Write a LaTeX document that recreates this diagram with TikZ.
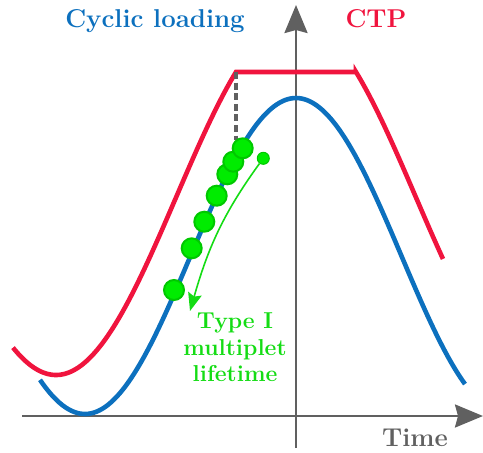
\documentclass[tikz,border=0pt]{standalone}
\usetikzlibrary{arrows.meta}
\definecolor{loadblue}{RGB}{12,112,190}
\definecolor{ctpred}{RGB}{240,20,62}
\definecolor{axisgray}{RGB}{96,96,96}
\definecolor{dotgreen}{RGB}{0,236,0}
\definecolor{dotedge}{RGB}{0,200,0}
\definecolor{labelgreen}{RGB}{20,220,20}
\tikzset{
  axisline/.style={draw=axisgray, line width=1.25pt,
    -{Stealth[length=14pt,width=11.5pt,inset=1.5pt]}},
  curve/.style={line width=2.3pt, line cap=butt},
  multdot/.style={circle, fill=dotgreen, draw=dotedge, line width=1pt,
    minimum size=10pt, inner sep=0pt},
  smalldot/.style={circle, fill=dotgreen, draw=dotedge, line width=0.5pt,
    minimum size=6pt, inner sep=0pt},
  title/.style={font=\fontsize{12.9}{15}\selectfont\bfseries, inner sep=0pt, anchor=base},
}
\begin{document}
\begin{tikzpicture}[x=0.5pt, y=-0.5pt]
  \useasboundingbox (0,0) rectangle (483,452);

  % axes
  \coordinate (xs) at (22,416);
  \coordinate (xe) at (483,416);
  \coordinate (ys) at (296,448);
  \coordinate (ye) at (296,5);
  \draw[axisline] (xs) -- (xe);
  \draw[axisline] (ys) -- (ye);

  % cyclic loading (sinusoid)
  \draw[curve, draw=loadblue]
    plot[domain=40:465, samples=150, smooth] (\x, {256 - 158*cos((\x-296)*0.85308)});

  % creep-type profile: sinusoid cut flat at its top
  \coordinate (ctpA) at (236,72);
  \coordinate (ctpB) at (356,72);
  \draw[curve, draw=ctpred, line join=miter]
    plot[domain=13:236, samples=120, smooth] (\x, {197.5 - 177.5*cos((\x-296)*0.75)})
    -- (ctpB)
    -- plot[domain=356:443, samples=50, smooth] (\x, {197.5 - 177.5*cos((\x-296)*0.75)});

  % dashed drop from the plateau corner
  \coordinate (dashend) at (236,140);
  \draw[axisgray, line width=2pt, dash pattern=on 3.5pt off 1.8pt] (ctpA) -- (dashend);

  % multiplet events along the loading curve
  \node[multdot] (m1) at (174,290) {};
  \node[multdot] (m2) at (191.7,248.3) {};
  \node[multdot] (m3) at (204.3,221.7) {};
  \node[multdot] (m4) at (216.7,195.7) {};
  \node[multdot] (m5) at (227.3,174.3) {};
  \node[multdot] (m6) at (233.3,161.7) {};
  \node[multdot] (m7) at (242.7,148.3) {};

  % lifetime arrow
  \node[smalldot] (s) at (263.3,158.3) {};
  \coordinate (arrtip) at (190,311);
  \draw[labelgreen, line width=0.8pt, -{Stealth[length=9pt,width=7pt,inset=1.5pt]}]
    (s) to[out=234, in=74] (arrtip);

  % labels
  \node[labelgreen, inner sep=0pt, align=center,
        font=\fontsize{11.5}{13.2}\selectfont\bfseries] (lab) at (235,347.5)
    {Type I\\multiplet\\lifetime};
  \node[title, text=loadblue] (t1) at (155,27) {Cyclic loading};
  \node[title, text=ctpred] (t2) at (376,27) {CTP};
  \node[title, text=axisgray] (t3) at (415,446) {Time};
\end{tikzpicture}
\end{document}
